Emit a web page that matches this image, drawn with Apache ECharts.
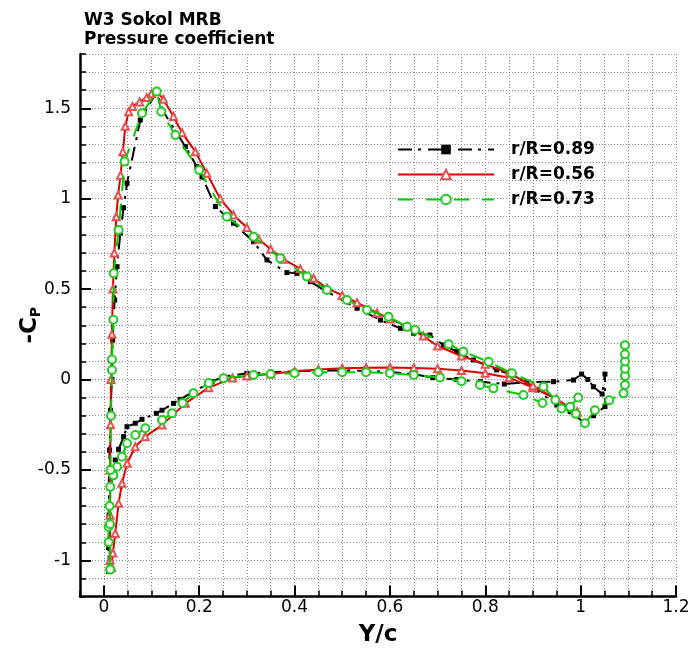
<!DOCTYPE html>
<html><head><meta charset="utf-8">
<script src="https://cdn.jsdelivr.net/npm/echarts@6/dist/echarts.min.js"></script>
<style>html,body{margin:0;padding:0;background:#fff}#c{width:693px;height:650px}</style>
</head><body><div id="c"></div>
<script>
// ---- data ----
const titleLines = ['W3 Sokol MRB', 'Pressure coefficient'];
const xName = 'Y/c';
const xTickLabels = [0, 0.2, 0.4, 0.6, 0.8, 1, 1.2];
const yTickLabels = [-1, -0.5, 0, 0.5, 1, 1.5];
const seriesNames = ['r/R=0.89', 'r/R=0.56', 'r/R=0.73'];

// r/R=0.89 : stagnation -> lower surface -> trailing edge loop -> upper surface -> stagnation
const blackX = [0.010,0.010,0.011,0.0136,0.024,0.031,0.0415,0.0486,0.066,0.080,0.110,0.122,0.146,0.160,0.188,0.227,0.251,0.300,0.350,0.400,0.450,0.500,0.550,0.600,0.650,0.690,0.740,0.790,0.840,0.887,0.943,0.985,1.002,1.015,1.027,1.045,1.051,1.051,1.027,1.009,
  0.978,0.950,0.908,0.859,0.824,0.775,0.740,0.712,0.684,0.650,0.622,0.580,0.531,0.468,0.433,0.405,0.384,0.342,0.314,0.272,0.234,0.206,0.195,0.171,0.125,0.111,0.0765,0.0486,0.0415,0.0346,0.0277,0.0227,0.0185,0.017,0.014,0.012,0.011,0.010,0.010];
const blackY = [-1.06,-0.93,-0.75,-0.556,-0.445,-0.386,-0.316,-0.261,-0.242,-0.220,-0.187,-0.170,-0.132,-0.110,-0.067,-0.012,0.016,0.034,0.040,0.045,0.050,0.050,0.048,0.042,0.030,0.010,0.000,-0.012,-0.025,-0.015,-0.012,-0.003,0.030,0.000,-0.040,-0.080,0.030,-0.150,-0.200,-0.242,
  -0.178,-0.141,-0.058,0.025,0.053,0.108,0.154,0.191,0.246,0.256,0.283,0.329,0.394,0.486,0.541,0.587,0.591,0.661,0.762,0.864,0.956,1.120,1.177,1.288,1.481,1.592,1.435,1.085,0.950,0.810,0.624,0.440,0.218,0.000,-0.170,-0.390,-0.600,-0.800,-1.060];

// r/R=0.56
const redX = [0.993,0.950,0.900,0.850,0.800,0.750,0.700,0.650,0.600,0.550,0.500,0.450,0.400,0.350,0.300,0.270,0.220,0.171,0.122,0.087,0.066,0.049,0.038,0.031,0.024,0.019,0.016,
  0.013,0.013,0.013,0.014,0.015,0.017,0.019,0.022,0.026,0.030,0.035,0.040,0.045,0.052,0.060,0.075,0.090,0.100,0.111,0.125,0.146,0.164,0.192,0.216,0.244,0.272,0.300,0.325,0.350,0.377,0.412,0.440,0.468,0.500,0.531,0.573,0.600,0.636,0.670,0.700,0.750,0.800,0.850,0.900,0.950,0.993];
const redY = [-0.180,-0.110,-0.045,0.010,0.035,0.050,0.060,0.064,0.066,0.065,0.062,0.055,0.045,0.030,0.020,0.008,-0.045,-0.132,-0.252,-0.316,-0.372,-0.463,-0.574,-0.685,-0.851,-0.960,-1.040,
  -1.000,-0.750,-0.500,-0.250,0.000,0.250,0.500,0.700,0.900,1.020,1.130,1.260,1.400,1.480,1.510,1.535,1.560,1.580,1.592,1.550,1.455,1.365,1.260,1.140,1.000,0.910,0.840,0.775,0.720,0.665,0.612,0.560,0.505,0.465,0.425,0.368,0.335,0.292,0.240,0.185,0.130,0.085,0.035,-0.035,-0.110,-0.180];

// r/R=0.73 (null = break in the line)
const greenX = [0.0136,0.010,0.010,0.012,0.0136,0.020,0.0277,0.038,0.0486,0.066,0.087,0.122,0.143,0.165,0.188,0.220,0.251,0.314,0.350,0.400,0.450,0.500,0.550,0.600,0.650,0.705,0.750,0.789,0.817,0.880,0.920,0.960,0.990,1.009,1.030,1.060,1.090,1.093,1.093,1.093,1.093,1.093,1.093,
  null,
  0.995,0.978,0.947,0.922,0.856,0.807,0.754,0.723,0.653,0.636,0.597,0.552,0.510,0.468,0.426,0.370,0.314,0.258,0.200,0.150,0.1205,0.111,0.080,0.0436,0.031,0.0206,0.020,0.017,0.017,0.015,0.014,0.013,0.0136];
const greenY = [-1.050,-0.900,-0.814,-0.700,-0.593,-0.530,-0.482,-0.427,-0.353,-0.307,-0.270,-0.224,-0.187,-0.130,-0.076,-0.020,0.007,0.025,0.030,0.035,0.040,0.040,0.040,0.035,0.025,0.011,-0.010,-0.030,-0.049,-0.086,-0.130,-0.160,-0.190,-0.242,-0.170,-0.115,-0.076,-0.030,0.020,0.060,0.100,0.140,0.190,
  null,
  -0.100,-0.150,-0.113,-0.040,0.034,0.098,0.154,0.195,0.274,0.292,0.347,0.384,0.440,0.495,0.569,0.670,0.790,0.900,1.159,1.352,1.481,1.592,1.472,1.205,0.827,0.587,0.330,0.110,0.053,-0.200,-0.500,-0.800,-1.050];

function pairs(xs, ys) {
  return xs.map((x, i) => (x === null || ys[i] === null) ? '-' : [x, ys[i]]);
}

const FONT = 'DejaVu Sans';
const chart = echarts.init(document.getElementById('c'), null, {renderer: 'canvas'});
const gridRect = {left: 80, top: 54, right: 17, bottom: 53.5, outerBoundsMode: 'none', containLabel: false};
const gridLine = {show: true, lineStyle: {color: '#8a8a8a', width: 1, type: [1, 2]}};

chart.setOption({
  animation: false,
  backgroundColor: '#fff',
  title: {
    text: titleLines.join('\n'), left: 79, top: 6,
    textStyle: {fontFamily: FONT, fontSize: 17, fontWeight: 'bold', color: '#000', lineHeight: 19}
  },
  legend: {
    orient: 'vertical', left: 397, top: 141, padding: 0,
    itemWidth: 96, itemHeight: 12, itemGap: 8,
    data: seriesNames,
    textStyle: {fontFamily: FONT, fontSize: 17, fontWeight: 'bold', color: '#000', padding: [0, 0, 0, 12]}
  },
  grid: [
    Object.assign({}, gridRect),
    Object.assign({}, gridRect)
  ],
  xAxis: [
    {
      type: 'value', gridIndex: 0, min: -0.05, max: 1.2, interval: 0.05,
      name: xName, nameLocation: 'middle', nameGap: 27, nameMoveOverlap: false,
      nameTextStyle: {fontFamily: FONT, fontSize: 23, fontWeight: 'bold', color: '#000'},
      axisLine: {show: true, onZero: false, lineStyle: {color: '#000', width: 2.5}},
      axisTick: {show: true, inside: true, length: 11, customValues: xTickLabels, lineStyle: {color: '#000', width: 2}},
      axisLabel: {customValues: xTickLabels, margin: 3, fontFamily: FONT, fontSize: 17, color: '#000'},
      splitLine: {show: false}
    },
    {
      type: 'value', gridIndex: 1, min: -0.05, max: 1.2, interval: 0.05,
      axisLine: {show: false, onZero: false},
      axisTick: {show: true, inside: true, length: 6, lineStyle: {color: '#000', width: 1.5}},
      axisLabel: {show: false},
      splitLine: gridLine
    }
  ],
  yAxis: [
    {
      type: 'value', gridIndex: 0, min: -1.2, max: 1.8, interval: 0.1,
      name: '{m|-C}{s|P}', nameLocation: 'middle', nameGap: 37, nameRotate: 90, nameMoveOverlap: false,
      nameTextStyle: {
        color: '#000',
        rich: {
          m: {fontFamily: FONT, fontSize: 23, fontWeight: 'bold', color: '#000'},
          s: {fontFamily: FONT, fontSize: 14, fontWeight: 'bold', color: '#000', verticalAlign: 'bottom', padding: [12, 0, 0, 0]}
        }
      },
      axisLine: {show: true, onZero: false, lineStyle: {color: '#000', width: 2.5}},
      axisTick: {show: true, inside: true, length: 11, customValues: yTickLabels, lineStyle: {color: '#000', width: 2}},
      axisLabel: {customValues: yTickLabels, margin: 9, fontFamily: FONT, fontSize: 17, color: '#000'},
      splitLine: {show: false}
    },
    {
      type: 'value', gridIndex: 1, min: -1.2, max: 1.8, interval: 0.1,
      axisLine: {show: false, onZero: false},
      axisTick: {show: true, inside: true, length: 6, lineStyle: {color: '#000', width: 1.5}},
      axisLabel: {show: false},
      splitLine: gridLine
    }
  ],
  series: [
    {
      name: seriesNames[0], type: 'line', xAxisIndex: 0, yAxisIndex: 0,
      data: pairs(blackX, blackY), connectNulls: false,
      symbol: 'rect', symbolSize: 5, showSymbol: true,
      lineStyle: {color: '#000', width: 2, type: [14, 6, 3, 7]},
      itemStyle: {color: '#000'}, z: 3
    },
    {
      name: seriesNames[1], type: 'line', xAxisIndex: 0, yAxisIndex: 0,
      data: pairs(redX, redY), connectNulls: false,
      symbol: 'emptyTriangle', symbolSize: 7, showSymbol: true,
      lineStyle: {color: '#dd0000', width: 2},
      itemStyle: {color: '#e85050', borderColor: '#e85050', borderWidth: 1}, z: 4
    },
    {
      name: seriesNames[2], type: 'line', xAxisIndex: 0, yAxisIndex: 0,
      data: pairs(greenX, greenY), connectNulls: false,
      symbol: 'emptyCircle', symbolSize: 8, showSymbol: true,
      lineStyle: {color: '#00cc00', width: 2, type: [15, 13]},
      itemStyle: {color: '#22cc22', borderColor: '#22cc22', borderWidth: 1}, z: 5
    }
  ]
});
</script>
</body></html>
